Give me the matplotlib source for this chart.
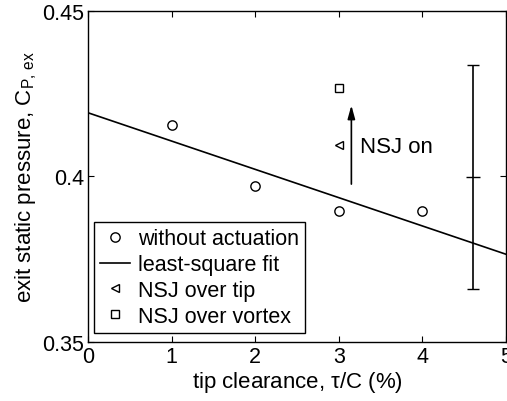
import numpy as np
import matplotlib
matplotlib.use("Agg")
import matplotlib.pyplot as plt

plt.rcParams['font.family'] = ['Liberation Sans', 'DejaVu Sans']
plt.rcParams['mathtext.fontset'] = 'custom'
plt.rcParams['mathtext.rm'] = 'Liberation Sans'
plt.rcParams['mathtext.it'] = 'Liberation Sans'

# baseline data (no actuation)
clearance = [1, 2, 3, 4]
cp_ex = [0.4155, 0.397, 0.3895, 0.3895]

# actuated cases at 3% clearance
nsj_tip_x, nsj_tip_y = [3], [0.4095]
nsj_vortex_x, nsj_vortex_y = [3], [0.4267]

# representative uncertainty bar
err_x, err_y, err_half = [4.6], [0.3998], [0.0338]

# arrow for "NSJ on"
arrow_x = 3.15
arrow_y0, arrow_y1 = 0.3977, 0.4215

fit = np.polyfit(clearance, cp_ex, 1)
fit_x = np.array([0, 5])
fit_y = np.polyval(fit, fit_x)

fig = plt.figure(figsize=(5.07, 4.02), dpi=100)
ax = fig.add_axes([0.1736, 0.1468, 0.8245, 0.8234])

ax.plot(clearance, cp_ex, 'o', mfc='none', mec='k', ms=6.7, mew=1.0,
        label='without actuation', zorder=3)
ax.plot(fit_x, fit_y, '-', color='k', lw=1.2, label='least-square fit')
ax.plot(nsj_tip_x, nsj_tip_y, '<', mfc='none', mec='k', ms=5.5, mew=1.0,
        label='NSJ over tip')
ax.plot(nsj_vortex_x, nsj_vortex_y, 's', mfc='none', mec='k', ms=5.3, mew=1.0,
        label='NSJ over vortex')

ax.errorbar(err_x, err_y, yerr=err_half, fmt='_', color='k', ms=9.5,
            mew=1.0, elinewidth=1.2, capsize=4, capthick=1.0)

ax.annotate('', xy=(arrow_x, arrow_y1), xytext=(arrow_x, arrow_y0),
            arrowprops=dict(arrowstyle='-|>,head_width=0.22,head_length=0.8',
                            color='k', lw=1.2, shrinkA=0, shrinkB=0))
ax.text(3.25, 0.4092, 'NSJ on', fontsize=16, va='center', ha='left')

ax.set_xlim(0, 5)
ax.set_ylim(0.35, 0.45)
ax.set_xticks([0, 1, 2, 3, 4, 5])
ax.set_yticks([0.35, 0.4, 0.45])
ax.set_yticklabels(['0.35', '0.4', '0.45'])
ax.tick_params(direction='in', top=True, right=True, length=4, width=0.8,
               labelsize=15.5, pad=3)
for s in ax.spines.values():
    s.set_linewidth(1.0)

ax.set_xlabel(r'tip clearance, $\tau$/C (%)', fontsize=16, labelpad=1)
ax.set_ylabel(r'exit static pressure, C$_{\mathrm{P,\,ex}}$', fontsize=16,
              labelpad=2)

leg = ax.legend(loc='lower left', bbox_to_anchor=(0.014, 0.027), fontsize=15.5,
                frameon=True, fancybox=False, edgecolor='k', framealpha=1,
                handlelength=1.4, handletextpad=0.35, labelspacing=0.22,
                borderpad=0.3, borderaxespad=0)
leg.get_frame().set_linewidth(1.0)

fig.savefig('out.png', dpi=100)
